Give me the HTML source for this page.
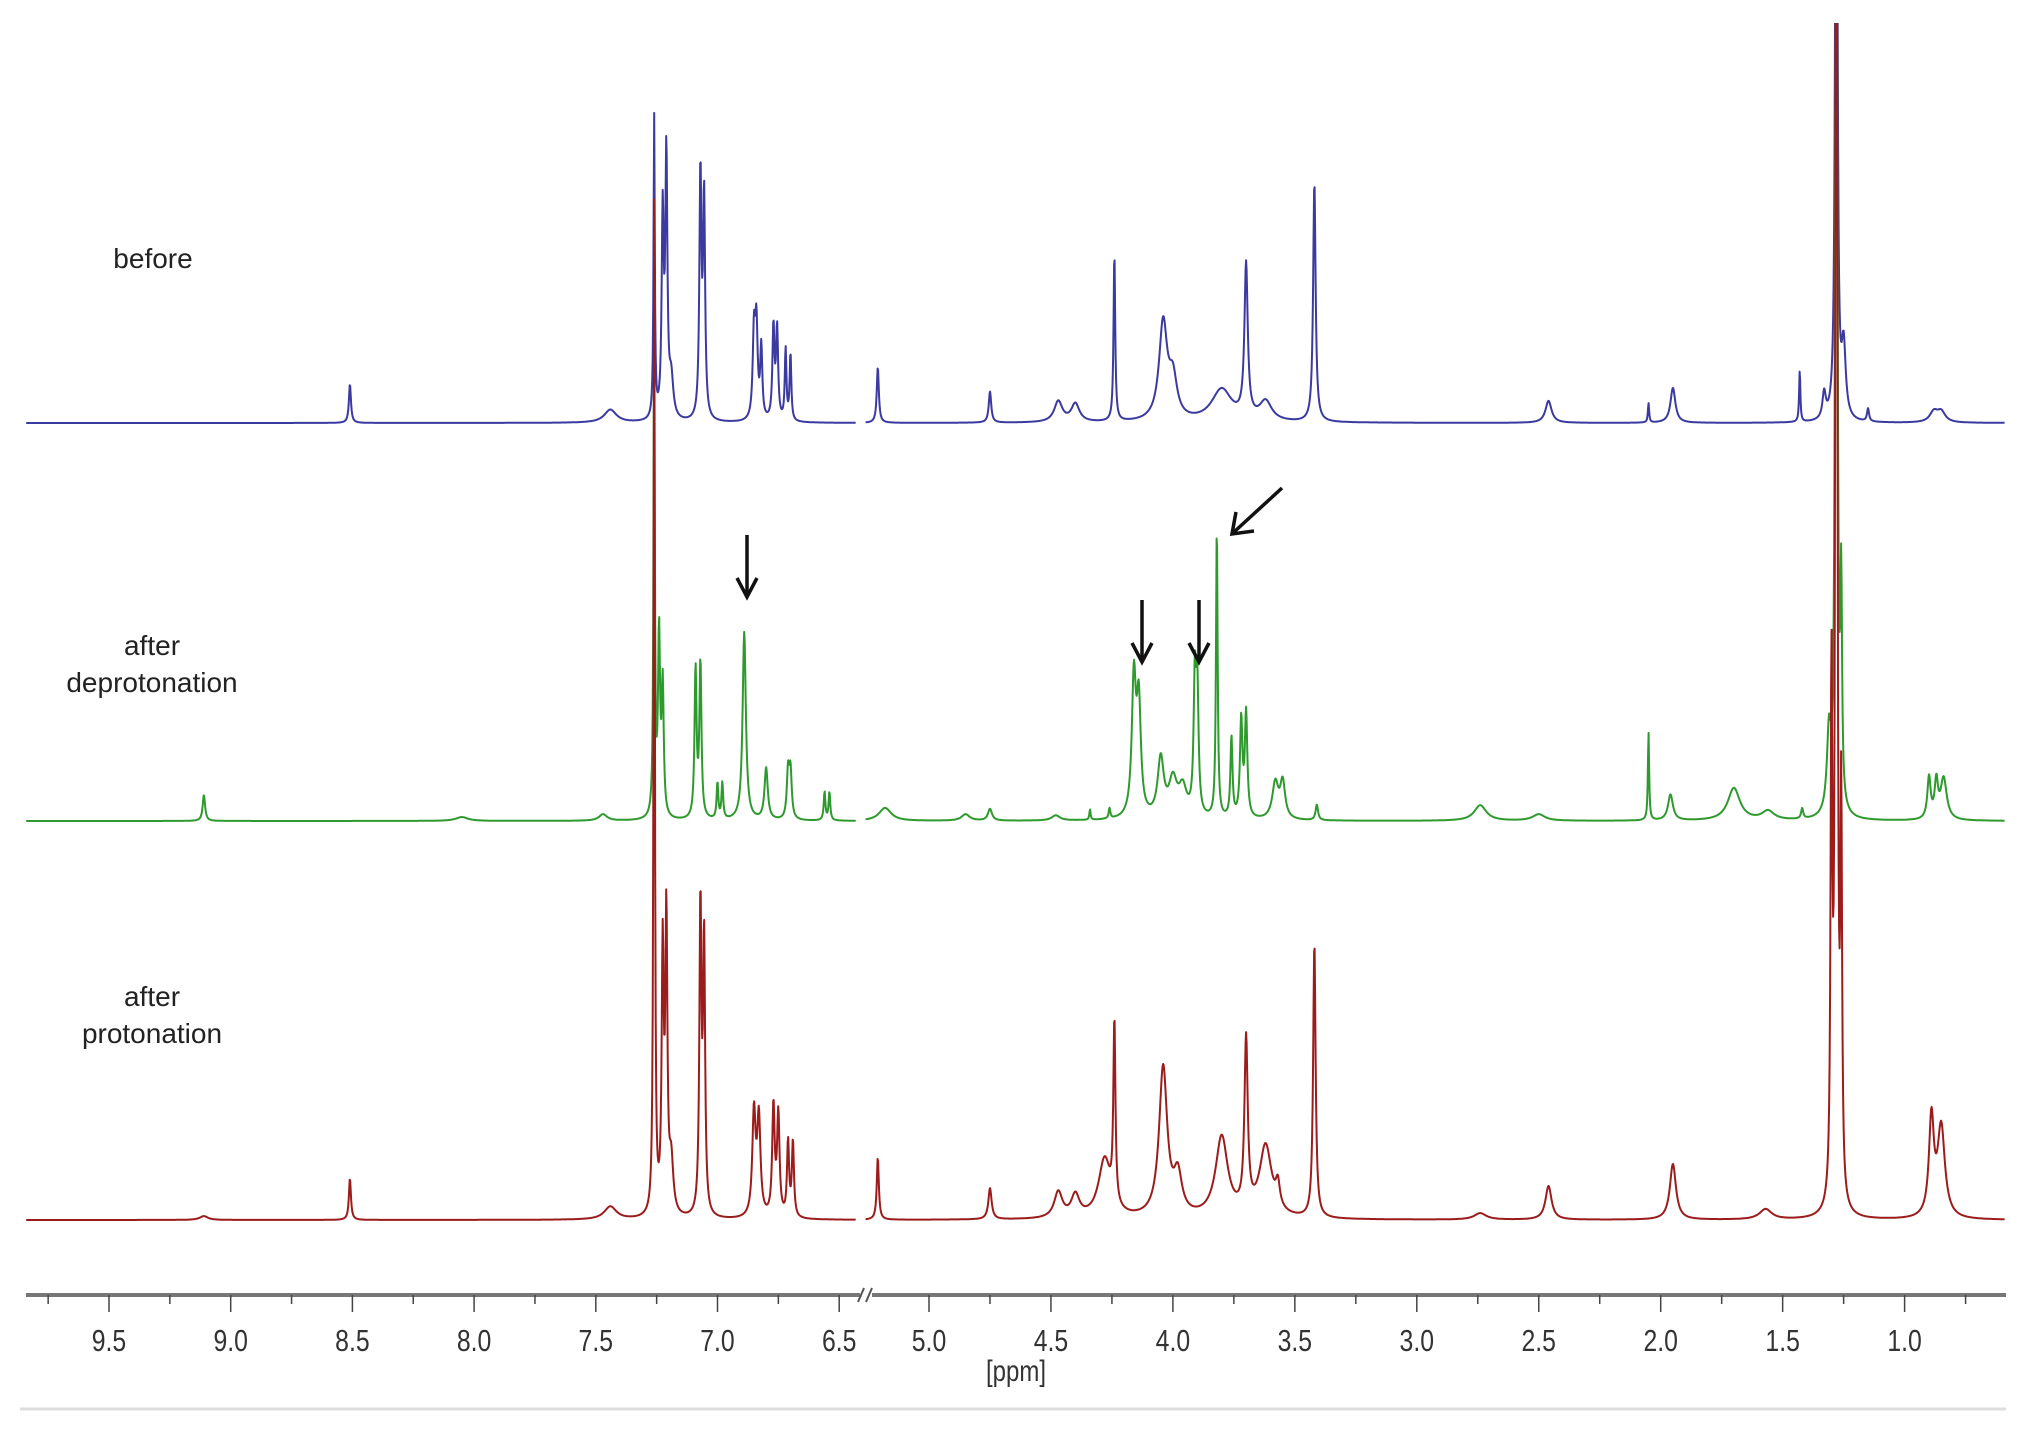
<!DOCTYPE html>
<html><head><meta charset="utf-8">
<style>
html,body{margin:0;padding:0;background:#fff;}
svg{display:block;}
text{font-family:"Liberation Sans",sans-serif;}
</style></head>
<body>
<svg id="chart" width="2024" height="1436" viewBox="0 0 2024 1436" xmlns="http://www.w3.org/2000/svg">
<defs><clipPath id="plotclip"><rect x="0" y="23" width="2024" height="1260"/></clipPath></defs>
<g id="spectra" clip-path="url(#plotclip)"></g>
<g id="axis"></g>
<g font-size="28" fill="#222" text-anchor="middle">
<text x="153" y="268">before</text>
<text x="152" y="655">after</text>
<text x="152" y="692">deprotonation</text>
<text x="152" y="1006">after</text>
<text x="152" y="1043">protonation</text>
</g>
<g stroke="#111" stroke-width="3.5" fill="none">
<g><line x1="747" y1="535" x2="747" y2="595"/><polyline points="737,578 747,597 757,578"/></g>
<g><line x1="1142" y1="600" x2="1142" y2="660"/><polyline points="1132,643 1142,662 1152,643"/></g>
<g><line x1="1199" y1="600" x2="1199" y2="660"/><polyline points="1189,643 1199,662 1209,643"/></g>
<g><line x1="1282" y1="488" x2="1234" y2="532"/><polyline points="1236,512 1232,534 1254,531"/></g>
</g>
<line x1="20" y1="1409" x2="2006" y2="1409" stroke="#ddd" stroke-width="3"/>
</svg>
<script>
// data (ppm, intensity in display units, half-width in ppm)
const bluePpm = [8.51,7.44,7.26,7.225,7.21,7.19,7.07,7.055,6.85,6.84,6.82,6.77,6.755,6.72,6.70,5.21,4.75,4.47,4.40,4.24,4.04,4.00,3.80,3.70,3.62,3.42,2.46,2.05,1.95,1.43,1.33,1.28,1.25,1.15,0.88,0.85];
const blueInt = [30,10,233,155,200,30,190,170,65,70,55,72,70,55,52,43,24,16,14,130,75,30,25,118,15,185,17,15,27,40,20,900,55,10,8,8];
const blueW   = [0.005,0.03,0.003,0.005,0.005,0.01,0.005,0.005,0.006,0.006,0.005,0.005,0.005,0.004,0.004,0.005,0.006,0.02,0.02,0.004,0.02,0.02,0.05,0.008,0.03,0.006,0.015,0.003,0.012,0.003,0.008,0.004,0.01,0.005,0.02,0.02];

const greenPpm = [9.11,8.05,7.47,7.26,7.24,7.225,7.09,7.07,7.00,6.98,6.89,6.80,6.71,6.70,6.56,6.54,5.18,4.85,4.75,4.48,4.34,4.26,4.16,4.14,4.05,4.00,3.96,3.91,3.90,3.82,3.76,3.72,3.70,3.58,3.55,3.41,2.74,2.50,2.05,1.96,1.70,1.56,1.42,1.31,1.28,1.26,0.90,0.87,0.84];
const greenInt = [20,3,5,400,140,100,115,120,28,28,145,40,36,36,22,22,10,5,9,4,8,8,105,85,45,28,22,100,92,225,62,75,80,28,28,12,12,5,68,20,25,7,8,60,1200,165,32,28,32];
const greenW   = [0.006,0.03,0.02,0.003,0.005,0.005,0.005,0.005,0.004,0.004,0.008,0.008,0.006,0.006,0.004,0.004,0.03,0.02,0.01,0.02,0.003,0.004,0.01,0.01,0.015,0.02,0.02,0.006,0.006,0.004,0.005,0.006,0.006,0.015,0.012,0.006,0.03,0.03,0.003,0.012,0.03,0.03,0.005,0.01,0.004,0.004,0.008,0.008,0.015];

const redPpm = [9.11,8.51,7.44,7.26,7.225,7.21,7.19,7.07,7.055,6.85,6.83,6.77,6.75,6.71,6.69,5.21,4.75,4.47,4.40,4.28,4.24,4.04,3.98,3.80,3.70,3.62,3.57,3.42,2.74,2.46,1.95,1.57,1.30,1.28,1.26,0.89,0.85];
const redInt = [3,32,10,780,200,225,40,240,210,80,75,85,78,58,58,48,24,20,17,45,140,115,30,62,132,55,18,212,5,26,43,8,400,1500,300,75,70];
const redW   = [0.02,0.005,0.03,0.003,0.005,0.005,0.01,0.005,0.005,0.008,0.008,0.006,0.006,0.005,0.005,0.005,0.008,0.02,0.02,0.03,0.005,0.02,0.02,0.03,0.008,0.03,0.01,0.006,0.03,0.015,0.015,0.03,0.004,0.004,0.004,0.012,0.018];

const majorTicks = [9.5,9.0,8.5,8.0,7.5,7.0,6.5,5.0,4.5,4.0,3.5,3.0,2.5,2.0,1.5,1.0];
const tickLabels = ["9.5","9.0","8.5","8.0","7.5","7.0","6.5","5.0","4.5","4.0","3.5","3.0","2.5","2.0","1.5","1.0"];
const minorTicks = [9.75,9.25,8.75,8.25,7.75,7.25,6.75,4.75,4.25,3.75,3.25,2.75,2.25,1.75,1.25,0.75];

const NS='http://www.w3.org/2000/svg';
const K = 1.2975;
// broken x axis: left segment 9.84–6.43 ppm, right segment 5.26–0.59 ppm
const segments = [{from:9.84,to:6.43},{from:5.26,to:0.59}];
function xScale(p){
  if(p>=6.0) return 109 + (9.5-p)*243.4;
  return 929 + (5.0-p)*243.9;
}
function yScale(base,v){ return base - v*K; }

function spectrumPath(ppm,ints,ws,base){
  let d='';
  segments.forEach(seg=>{
    const x0=xScale(seg.from), x1=xScale(seg.to);
    let first=true;
    for(let x=x0;x<=x1;x+=0.5){
      const p = seg.from + (seg.to-seg.from)*(x-x0)/(x1-x0);
      let v=0;
      for(let i=0;i<ppm.length;i++){
        const dd=(p-ppm[i])/ws[i];
        v+=ints[i]/(1+dd*dd);
      }
      const y=Math.max(yScale(base,v),0);
      d+=(first?'M':'L')+x.toFixed(1)+','+y.toFixed(1);
      first=false;
    }
  });
  return d;
}
const g=document.getElementById('spectra');
function addSpec(name,ppm,ints,ws,base,color){
  const p=document.createElementNS(NS,'path');
  p.setAttribute('d',spectrumPath(ppm,ints,ws,base));
  p.setAttribute('fill','none');p.setAttribute('stroke',color);p.setAttribute('stroke-width','2');
  p.setAttribute('stroke-linejoin','round');
  
  
  g.appendChild(p);
}
addSpec('spectrum-before',bluePpm,blueInt,blueW,423,'#3a3aa0');
addSpec('spectrum-after-deprotonation',greenPpm,greenInt,greenW,821,'#2e9a2e');
addSpec('spectrum-after-protonation',redPpm,redInt,redW,1220,'#9c1c1c');

// axis
const ax=document.getElementById('axis');
const AY=1295;
function line(x1,y1,x2,y2,w,c,name){
  const l=document.createElementNS(NS,'line');
  l.setAttribute('x1',x1);l.setAttribute('y1',y1);l.setAttribute('x2',x2);l.setAttribute('y2',y2);
  l.setAttribute('stroke',c);l.setAttribute('stroke-width',w);
  
  
  ax.appendChild(l);
}
line(26,AY,860,AY,4,'#777','axis-line-left');
line(872,AY,2006,AY,4,'#777','axis-line-right');
line(858,AY+7,864,AY-7,2,'#555','axis-break-1');
line(866,AY+7,872,AY-7,2,'#555','axis-break-2');
majorTicks.forEach((t,i)=>{
  const x=xScale(t);
  line(x,AY,x,AY+17,1.5,'#444','major-tick');
  const tx=document.createElementNS(NS,'text');
  tx.setAttribute('x',x);tx.setAttribute('y',AY+56);
  tx.setAttribute('font-size','31');tx.setAttribute('text-anchor','middle');tx.setAttribute('fill','#333');
  tx.setAttribute('transform','translate('+x+',0) scale(0.8,1) translate('+(-x)+',0)');
  tx.textContent=tickLabels[i];
  
  
  ax.appendChild(tx);
});
minorTicks.forEach(t=>{
  const x=xScale(t);
  line(x,AY,x,AY+9,1.5,'#444','minor-tick');
});
const tt=document.createElementNS(NS,'text');
tt.setAttribute('x',1016);tt.setAttribute('y',1381);tt.setAttribute('font-size','30');
tt.setAttribute('text-anchor','middle');tt.setAttribute('fill','#333');
tt.setAttribute('transform','translate(1016,0) scale(0.8,1) translate(-1016,0)');
tt.textContent='[ppm]';


ax.appendChild(tt);
</script>
</body></html>
